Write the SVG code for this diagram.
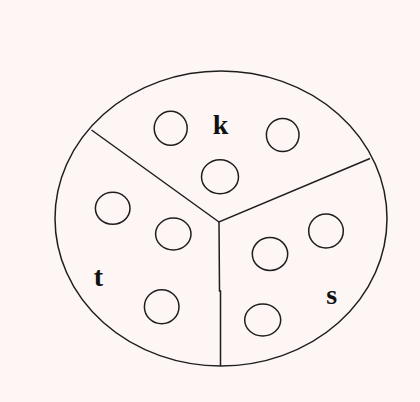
<svg xmlns="http://www.w3.org/2000/svg" width="420" height="402" viewBox="0 0 420 402">
<style>
.ln{fill:none;stroke:#1e1e1e;stroke-width:1.5}
.sm{fill:none;stroke:#1e1e1e;stroke-width:1.5}
.lb{font-family:"Liberation Serif","Times New Roman",serif;font-weight:bold;font-size:28px;fill:#111;text-anchor:middle}
</style>
<rect width="420" height="402" fill="#fdf6f5"/>
<g id="outer">
<ellipse class="ln" cx="221" cy="218.5" rx="166" ry="147.5"/>
</g>
<g id="connectors">
<polyline class="ln" points="91.5,130 219,222 370,158.5"/>
<polyline class="ln" points="219,222 219.5,291 220.5,291 220.5,366"/>
</g>
<g id="sector-k">
<ellipse class="sm" cx="170.7" cy="128.3" rx="16.5" ry="17"/>
<ellipse class="sm" cx="282.7" cy="135" rx="16.3" ry="16.5"/>
<ellipse class="sm" cx="220" cy="176.7" rx="18.5" ry="17"/>
<text class="lb" x="220.5" y="134">k</text>
</g>
<g id="sector-t">
<ellipse class="sm" cx="112.7" cy="208.3" rx="17.3" ry="16"/>
<ellipse class="sm" cx="173.3" cy="234" rx="17.7" ry="16"/>
<ellipse class="sm" cx="161.7" cy="306.7" rx="17.3" ry="17"/>
<text class="lb" x="98.3" y="286">t</text>
</g>
<g id="sector-s">
<ellipse class="sm" cx="326" cy="231" rx="17.3" ry="17"/>
<ellipse class="sm" cx="270" cy="254" rx="17.7" ry="16.5"/>
<ellipse class="sm" cx="262.7" cy="320" rx="18" ry="16"/>
<text class="lb" x="331.7" y="304">s</text>
</g>
</svg>
